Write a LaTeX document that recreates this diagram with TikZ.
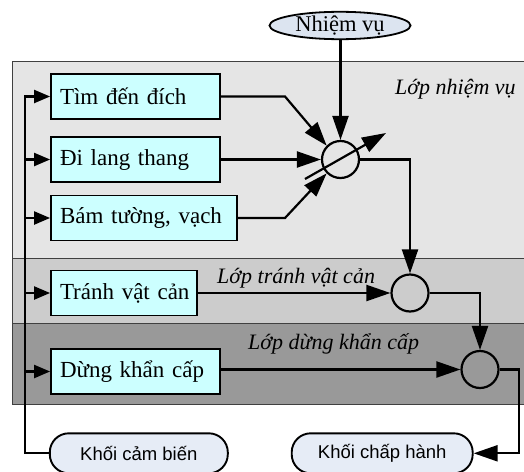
\documentclass[tikz,border=0pt]{standalone}
\usepackage{fontspec}
\setmainfont{Liberation Serif}
\newfontfamily\sansf{Liberation Sans}
\usetikzlibrary{arrows.meta,shapes.geometric}
\definecolor{boxcyan}{HTML}{CCFFFF}
\definecolor{termfill}{HTML}{E6ECF6}
\definecolor{ellfill}{HTML}{DCE4F0}
\definecolor{layA}{HTML}{E5E5E5}
\definecolor{layB}{HTML}{CCCCCC}
\definecolor{layC}{HTML}{999999}
\begin{document}
\begin{tikzpicture}[x=1pt,y=-1pt,
 line/.style={line width=2.2pt},
 conn/.style={line width=2.2pt, -{Triangle[length=24pt,width=16pt]}},
 sconn/.style={line width=2.2pt, -{Triangle[length=16pt,width=13pt]}},
 box/.style={draw, line width=1.8pt, fill=boxcyan, minimum height=45pt, inner xsep=9pt, align=left, font=\fontsize{23}{26}\selectfont},
 sumc/.style={circle, draw, line width=2.2pt, minimum size=37pt, inner sep=0pt},
 layer/.style={draw=black!75, line width=1pt},
 lbl/.style={inner sep=0pt, anchor=base west, font=\fontsize{22}{26}\selectfont\itshape},
 term/.style={draw, line width=1.9pt, fill=termfill, rounded corners=19pt, minimum height=40pt, font=\sansf\fontsize{18.5}{22}\selectfont}
]
\useasboundingbox (0,0) rectangle (524,471);
% layers
\filldraw[layer, fill=layA] (12.7,61) rectangle (530,258);
\filldraw[layer, fill=layB] (12.7,258) rectangle (530,323);
\filldraw[layer, fill=layC] (12.7,323) rectangle (530,404);
\node[lbl] (lb1) at (395,94) {Lớp nhiệm vụ};
\node[lbl] (lb2) at (217,283) {Lớp tránh vật cản};
\node[lbl] (lb3) at (248,349.5) {Lớp dừng khẩn cấp};
% nodes
\node[ellipse, draw, line width=1.8pt, fill=ellfill, minimum width=141pt, minimum height=27pt, inner sep=0pt, font=\fontsize{22.5}{26}\selectfont] (nv) at (340,25.5) {Nhiệm vụ};
\node[box, text width=151pt] (t1) at (135.5,96.5) {\mbox{Tìm đến đích}};
\node[box, text width=151pt] (t2) at (135.5,159.5) {\mbox{Đi lang thang}};
\node[box, text width=168pt] (t3) at (144,218) {\mbox{Bám tường, vạch}};
\node[box, text width=128pt] (t4) at (124,293) {\mbox{Tránh vật cản}};
\node[box, text width=151pt] (t5) at (135.5,371.5) {\mbox{Dừng khẩn cấp}};
\node[sumc] (c1) at (340.5,159.5) {};
\node[sumc] (c2) at (410,293) {};
\node[sumc] (c3) at (480,369.5) {};
\node[term, minimum width=178pt] (kcb) at (138.8,453.3) {Khối cảm biến};
\node[term, minimum width=181pt] (kch) at (382.2,453.3) {Khối chấp hành};
% helper coordinates
\coordinate (bus) at (25,0);
\coordinate (k1) at (285,96.5);
\coordinate (k3) at (285,218);
\coordinate (sa) at (305,179);
\coordinate (sb) at (386,133);
\coordinate (rr) at (519,453.3);
% connectors
\draw[conn] (nv.south -| c1.north) -- (c1.north);
\draw[conn] (t1.east) -- (k1) -- (c1.135);
\draw[conn] (t2.east) -- (c1.west);
\draw[conn] (t3.east) -- (k3) -- (c1.225);
\draw[conn] (sa) -- (sb);
\draw[conn] (c1.east) -| (c2.north);
\draw[conn] (t4.east) -- (c2.west);
\draw[conn] (c2.east) -| (c3.north);
\draw[conn] (t5.east |- c3.west) -- (c3.west);
\draw[conn] (c3.east) -| (rr) -- (kch.east);
% sensor bus
\draw[sconn] (kcb.west) -| (t1.west -| bus) -- (t1.west);
\draw[sconn] (t2.west -| bus) -- (t2.west);
\draw[sconn] (t3.west -| bus) -- (t3.west);
\draw[sconn] (t4.west -| bus) -- (t4.west);
\draw[sconn] (t5.west -| bus) -- (t5.west);
\end{tikzpicture}
\end{document}
